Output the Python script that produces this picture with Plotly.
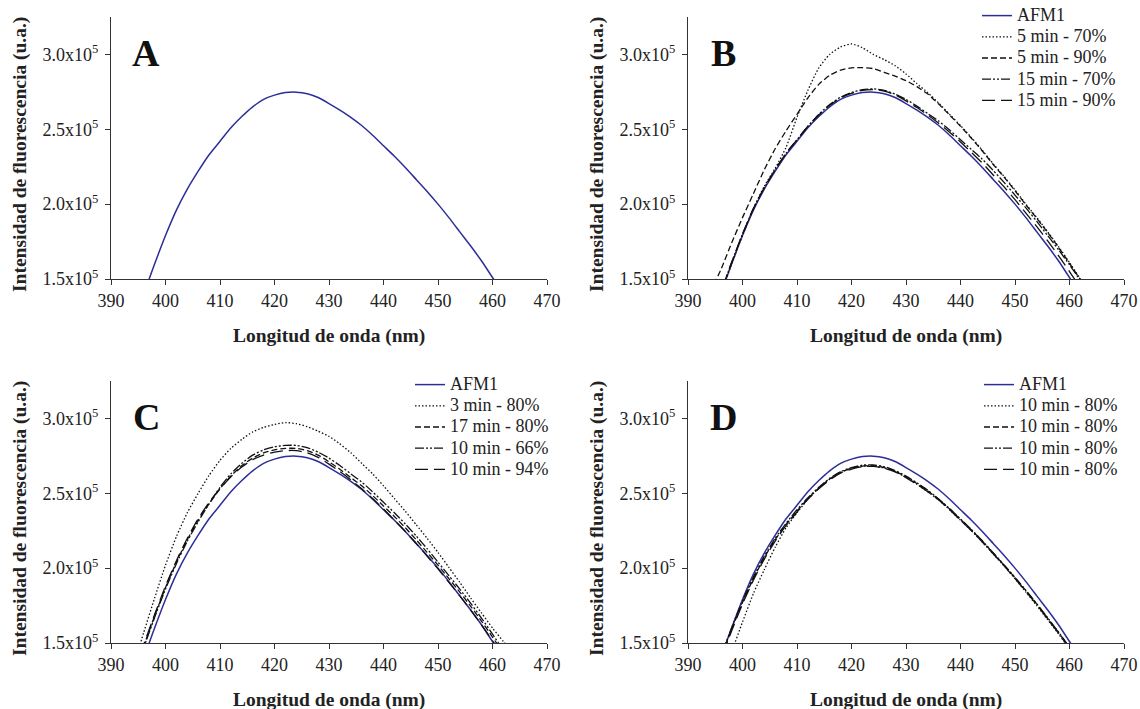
import plotly.graph_objects as go

# ---------------- data (intensity in units of 10^5 u.a.) ----------------
WAVELENGTH = [394, 396, 398, 400, 402, 404, 406, 408, 410, 412, 414, 416, 418, 420, 422, 424, 426, 428,
              430, 432, 434, 436, 438, 440, 442, 444, 446, 448, 450, 452, 454, 456, 458, 460, 462, 464]

AFM1 = [1.22, 1.40, 1.60, 1.79, 1.96, 2.10, 2.22, 2.33, 2.42, 2.51, 2.585, 2.65, 2.70, 2.728, 2.745, 2.748,
        2.738, 2.712, 2.672, 2.628, 2.58, 2.525, 2.46, 2.39, 2.32, 2.245, 2.165, 2.085, 2.00, 1.91, 1.815,
        1.72, 1.62, 1.51, 1.40, 1.29]

# Panel B
B_LABELS = ["5 min - 70%", "5 min - 90%", "15 min - 70%", "15 min - 90%"]
B_5MIN_70 = [1.21, 1.40, 1.60, 1.79, 1.97, 2.12, 2.24, 2.38, 2.58, 2.76, 2.91, 3.00, 3.05, 3.07, 3.045, 3.00,
             2.965, 2.925, 2.87, 2.805, 2.745, 2.675, 2.60, 2.525, 2.445, 2.36, 2.27, 2.185, 2.095, 2.00,
             1.91, 1.815, 1.715, 1.61, 1.50, 1.39]
B_5MIN_90 = [1.41, 1.56, 1.74, 1.91, 2.07, 2.23, 2.37, 2.49, 2.60, 2.71, 2.80, 2.86, 2.895, 2.91, 2.912, 2.905,
             2.88, 2.855, 2.825, 2.785, 2.735, 2.668, 2.595, 2.52, 2.44, 2.355, 2.265, 2.18, 2.09, 1.995,
             1.905, 1.81, 1.71, 1.605, 1.495, 1.385]
B_15MIN_70 = [1.21, 1.41, 1.61, 1.80, 1.97, 2.11, 2.23, 2.34, 2.43, 2.52, 2.60, 2.665, 2.715, 2.745, 2.765, 2.77,
              2.76, 2.735, 2.70, 2.655, 2.605, 2.555, 2.495, 2.43, 2.365, 2.30, 2.225, 2.145, 2.06, 1.975,
              1.885, 1.79, 1.695, 1.595, 1.49, 1.38]
B_15MIN_90 = [1.21, 1.41, 1.61, 1.80, 1.97, 2.11, 2.23, 2.34, 2.43, 2.52, 2.595, 2.66, 2.71, 2.74, 2.76, 2.765,
              2.755, 2.73, 2.69, 2.645, 2.595, 2.54, 2.48, 2.415, 2.345, 2.275, 2.195, 2.115, 2.03, 1.94,
              1.85, 1.755, 1.655, 1.55, 1.44, 1.33]

# Panel C
C_LABELS = ["3 min - 80%", "17 min - 80%", "10 min - 66%", "10 min - 94%"]
C_3MIN_80 = [1.33, 1.57, 1.80, 2.02, 2.21, 2.37, 2.50, 2.62, 2.72, 2.80, 2.86, 2.91, 2.94, 2.96, 2.972, 2.965,
             2.945, 2.915, 2.88, 2.83, 2.77, 2.70, 2.63, 2.55, 2.465, 2.38, 2.29, 2.20, 2.105, 2.005,
             1.905, 1.80, 1.70, 1.60, 1.51, 1.42]
C_17MIN_80 = [1.30, 1.48, 1.68, 1.87, 2.04, 2.19, 2.32, 2.43, 2.53, 2.615, 2.685, 2.735, 2.77, 2.79, 2.80, 2.80,
              2.785, 2.755, 2.71, 2.66, 2.605, 2.55, 2.485, 2.415, 2.345, 2.27, 2.19, 2.105, 2.02, 1.93,
              1.84, 1.745, 1.645, 1.54, 1.43, 1.32]
C_10MIN_66 = [1.29, 1.47, 1.67, 1.86, 2.03, 2.18, 2.31, 2.43, 2.54, 2.63, 2.70, 2.755, 2.79, 2.81, 2.82, 2.82,
              2.805, 2.775, 2.735, 2.685, 2.63, 2.575, 2.51, 2.44, 2.37, 2.295, 2.215, 2.13, 2.04, 1.95,
              1.86, 1.765, 1.665, 1.56, 1.45, 1.34]
C_10MIN_94 = [1.31, 1.49, 1.69, 1.88, 2.05, 2.20, 2.33, 2.44, 2.53, 2.61, 2.675, 2.725, 2.755, 2.775, 2.785, 2.785,
              2.77, 2.74, 2.695, 2.645, 2.59, 2.53, 2.465, 2.395, 2.32, 2.245, 2.165, 2.08, 1.995, 1.905,
              1.815, 1.72, 1.62, 1.515, 1.41, 1.30]

# Panel D
D_LABELS = ["10 min - 80%", "10 min - 80%", "10 min - 80%", "10 min - 80%"]
D_RUN_1 = [1.05, 1.25, 1.44, 1.64, 1.83, 1.99, 2.14, 2.27, 2.37, 2.46, 2.535, 2.595, 2.64, 2.665, 2.68, 2.682,
           2.67, 2.645, 2.605, 2.56, 2.51, 2.455, 2.39, 2.32, 2.25, 2.175, 2.095, 2.015, 1.93, 1.84,
           1.75, 1.655, 1.56, 1.46, 1.36, 1.25]
D_RUN_2 = [1.20, 1.40, 1.59, 1.77, 1.93, 2.07, 2.19, 2.29, 2.38, 2.465, 2.535, 2.595, 2.64, 2.667, 2.682, 2.685,
           2.672, 2.648, 2.61, 2.565, 2.515, 2.46, 2.395, 2.325, 2.255, 2.18, 2.10, 2.02, 1.935, 1.85,
           1.76, 1.665, 1.57, 1.47, 1.37, 1.26]
D_RUN_3 = [1.21, 1.41, 1.60, 1.78, 1.94, 2.08, 2.20, 2.30, 2.39, 2.47, 2.54, 2.60, 2.645, 2.672, 2.688, 2.69,
           2.678, 2.652, 2.615, 2.57, 2.52, 2.462, 2.398, 2.328, 2.258, 2.183, 2.103, 2.022, 1.938, 1.852,
           1.762, 1.668, 1.572, 1.472, 1.37, 1.26]
D_RUN_4 = [1.19, 1.39, 1.58, 1.76, 1.92, 2.06, 2.18, 2.285, 2.375, 2.46, 2.53, 2.59, 2.635, 2.662, 2.677, 2.68,
           2.667, 2.643, 2.605, 2.56, 2.51, 2.455, 2.39, 2.32, 2.25, 2.175, 2.095, 2.015, 1.93, 1.845,
           1.755, 1.66, 1.565, 1.465, 1.365, 1.255]

X_TICKS = [390, 400, 410, 420, 430, 440, 450, 460, 470]
Y_TICKS = [1.5, 2.0, 2.5, 3.0]
Y_TICKTEXT = ["1.5x10<sup>5</sup>", "2.0x10<sup>5</sup>", "2.5x10<sup>5</sup>", "3.0x10<sup>5</sup>"]
PANEL_LETTERS = ["A", "B", "C", "D"]
X_TITLE = "Longitud de onda (nm)"
Y_TITLE = "Intensidad de fluorescencia (u.a.)"

# ---------------- styling ----------------
W, H = 1140, 709
FONT = "Liberation Serif, Times New Roman, serif"
BLUE = "#2B2E98"
BLACK = "#111111"
DASHES = ["1.5px,2px", "6px,3px", "9px,2px,2px,2px,2px,2px", "13px,6px"]
LEGEND_TEXT = "<span style='font-size:18px'>{}</span>"

# pixel geometry of the four plot areas (left, right, bottom, top)
PANELS = {
    1: (111, 547, 279, 17),
    2: (688, 1124, 279, 17),
    3: (111, 547, 643, 381),
    4: (688, 1124, 643, 381),
}

fig = go.Figure()


def add_afm1(idx, show):
    fig.add_trace(go.Scatter(
        x=WAVELENGTH, y=AFM1, mode="lines", name=LEGEND_TEXT.format("AFM1"),
        line=dict(color=BLUE, width=1.5, shape="spline", smoothing=0.6),
        xaxis="x" if idx == 1 else f"x{idx}", yaxis="y" if idx == 1 else f"y{idx}",
        showlegend=show, legend=("legend" if idx == 2 else f"legend{idx - 1}") if show else None,
    ))


def add_series(idx, labels, series):
    leg = "legend" if idx == 2 else f"legend{idx - 1}"
    for lab, vals, dash in zip(labels, series, DASHES):
        fig.add_trace(go.Scatter(
            x=WAVELENGTH, y=vals, mode="lines", name=LEGEND_TEXT.format(lab),
            line=dict(color=BLACK, width=1.3, dash=dash, shape="spline", smoothing=0.6),
            xaxis=f"x{idx}", yaxis=f"y{idx}", legend=leg,
        ))


add_afm1(1, False)
add_afm1(2, True)
add_series(2, B_LABELS, [B_5MIN_70, B_5MIN_90, B_15MIN_70, B_15MIN_90])
add_afm1(3, True)
add_series(3, C_LABELS, [C_3MIN_80, C_17MIN_80, C_10MIN_66, C_10MIN_94])
add_afm1(4, True)
add_series(4, D_LABELS, [D_RUN_1, D_RUN_2, D_RUN_3, D_RUN_4])

layout = dict(
    width=W, height=H, margin=dict(l=0, r=0, t=0, b=0, autoexpand=False),
    paper_bgcolor="white", plot_bgcolor="white",
    font=dict(family=FONT, color="#222222", size=18),
)

annotations = []
for idx, (l, r, b, t) in PANELS.items():
    xs = "xaxis" if idx == 1 else f"xaxis{idx}"
    ys = "yaxis" if idx == 1 else f"yaxis{idx}"
    xa = "x" if idx == 1 else f"x{idx}"
    ya = "y" if idx == 1 else f"y{idx}"
    layout[xs] = dict(
        domain=[l / W, r / W], anchor=ya, range=[390, 470], automargin=False,
        tickmode="array", tickvals=X_TICKS, ticks="outside", ticklen=5, tickwidth=1,
        tickcolor="#333333", showline=True, linecolor="#333333", linewidth=1,
        showgrid=False, zeroline=False, tickfont=dict(family=FONT, size=18, color="#222222"),
    )
    layout[ys] = dict(
        domain=[(H - b) / H, (H - t) / H], anchor=xa, range=[1.5, 3.25], automargin=False,
        tickmode="array", tickvals=Y_TICKS, ticktext=Y_TICKTEXT, ticks="outside", ticklen=5,
        tickwidth=1, tickcolor="#333333", showline=True, linecolor="#333333", linewidth=1,
        ticklabelstandoff=3,
        showgrid=False, zeroline=False, tickfont=dict(family=FONT, size=18, color="#222222"),
    )
    # axis titles
    annotations.append(dict(
        text=f"<b>{X_TITLE}</b>", xref="paper", yref="paper",
        x=((l + r) / 2) / W, y=(H - (b + 57)) / H, showarrow=False,
        xanchor="center", yanchor="middle", font=dict(family=FONT, size=19.5, color="#222222"),
    ))
    annotations.append(dict(
        text=f"<b>{Y_TITLE}</b>", xref="paper", yref="paper",
        x=(l - 91) / W, y=(H - (t + 138)) / H, showarrow=False, textangle=-90,
        xanchor="center", yanchor="middle", font=dict(family=FONT, size=19.5, color="#222222"),
    ))
    # panel letter
    annotations.append(dict(
        text=f"<b>{PANEL_LETTERS[idx - 1]}</b>", xref="paper", yref="paper",
        x=(l + 35) / W, y=(H - (t + 36)) / H, showarrow=False,
        xanchor="center", yanchor="middle", font=dict(family=FONT, size=38, color="#111111"),
    ))

legend_style = dict(
    xanchor="left", yanchor="top", bgcolor="rgba(0,0,0,0)", borderwidth=0,
    font=dict(family=FONT, size=14, color="#222222"), tracegroupgap=0, itemwidth=30,
)
layout["legend"] = dict(x=977 / W, y=(H - 0) / H, **legend_style)
layout["legend2"] = dict(x=410 / W, y=(H - 369) / H, **legend_style)
layout["legend3"] = dict(x=979 / W, y=(H - 369) / H, **legend_style)
layout["annotations"] = annotations

fig.update_layout(**layout)
fig.write_html(
    "out.html",
    config={"displayModeBar": False},
    post_script="document.body.style.margin='0px';document.body.style.overflow='hidden';",
)
